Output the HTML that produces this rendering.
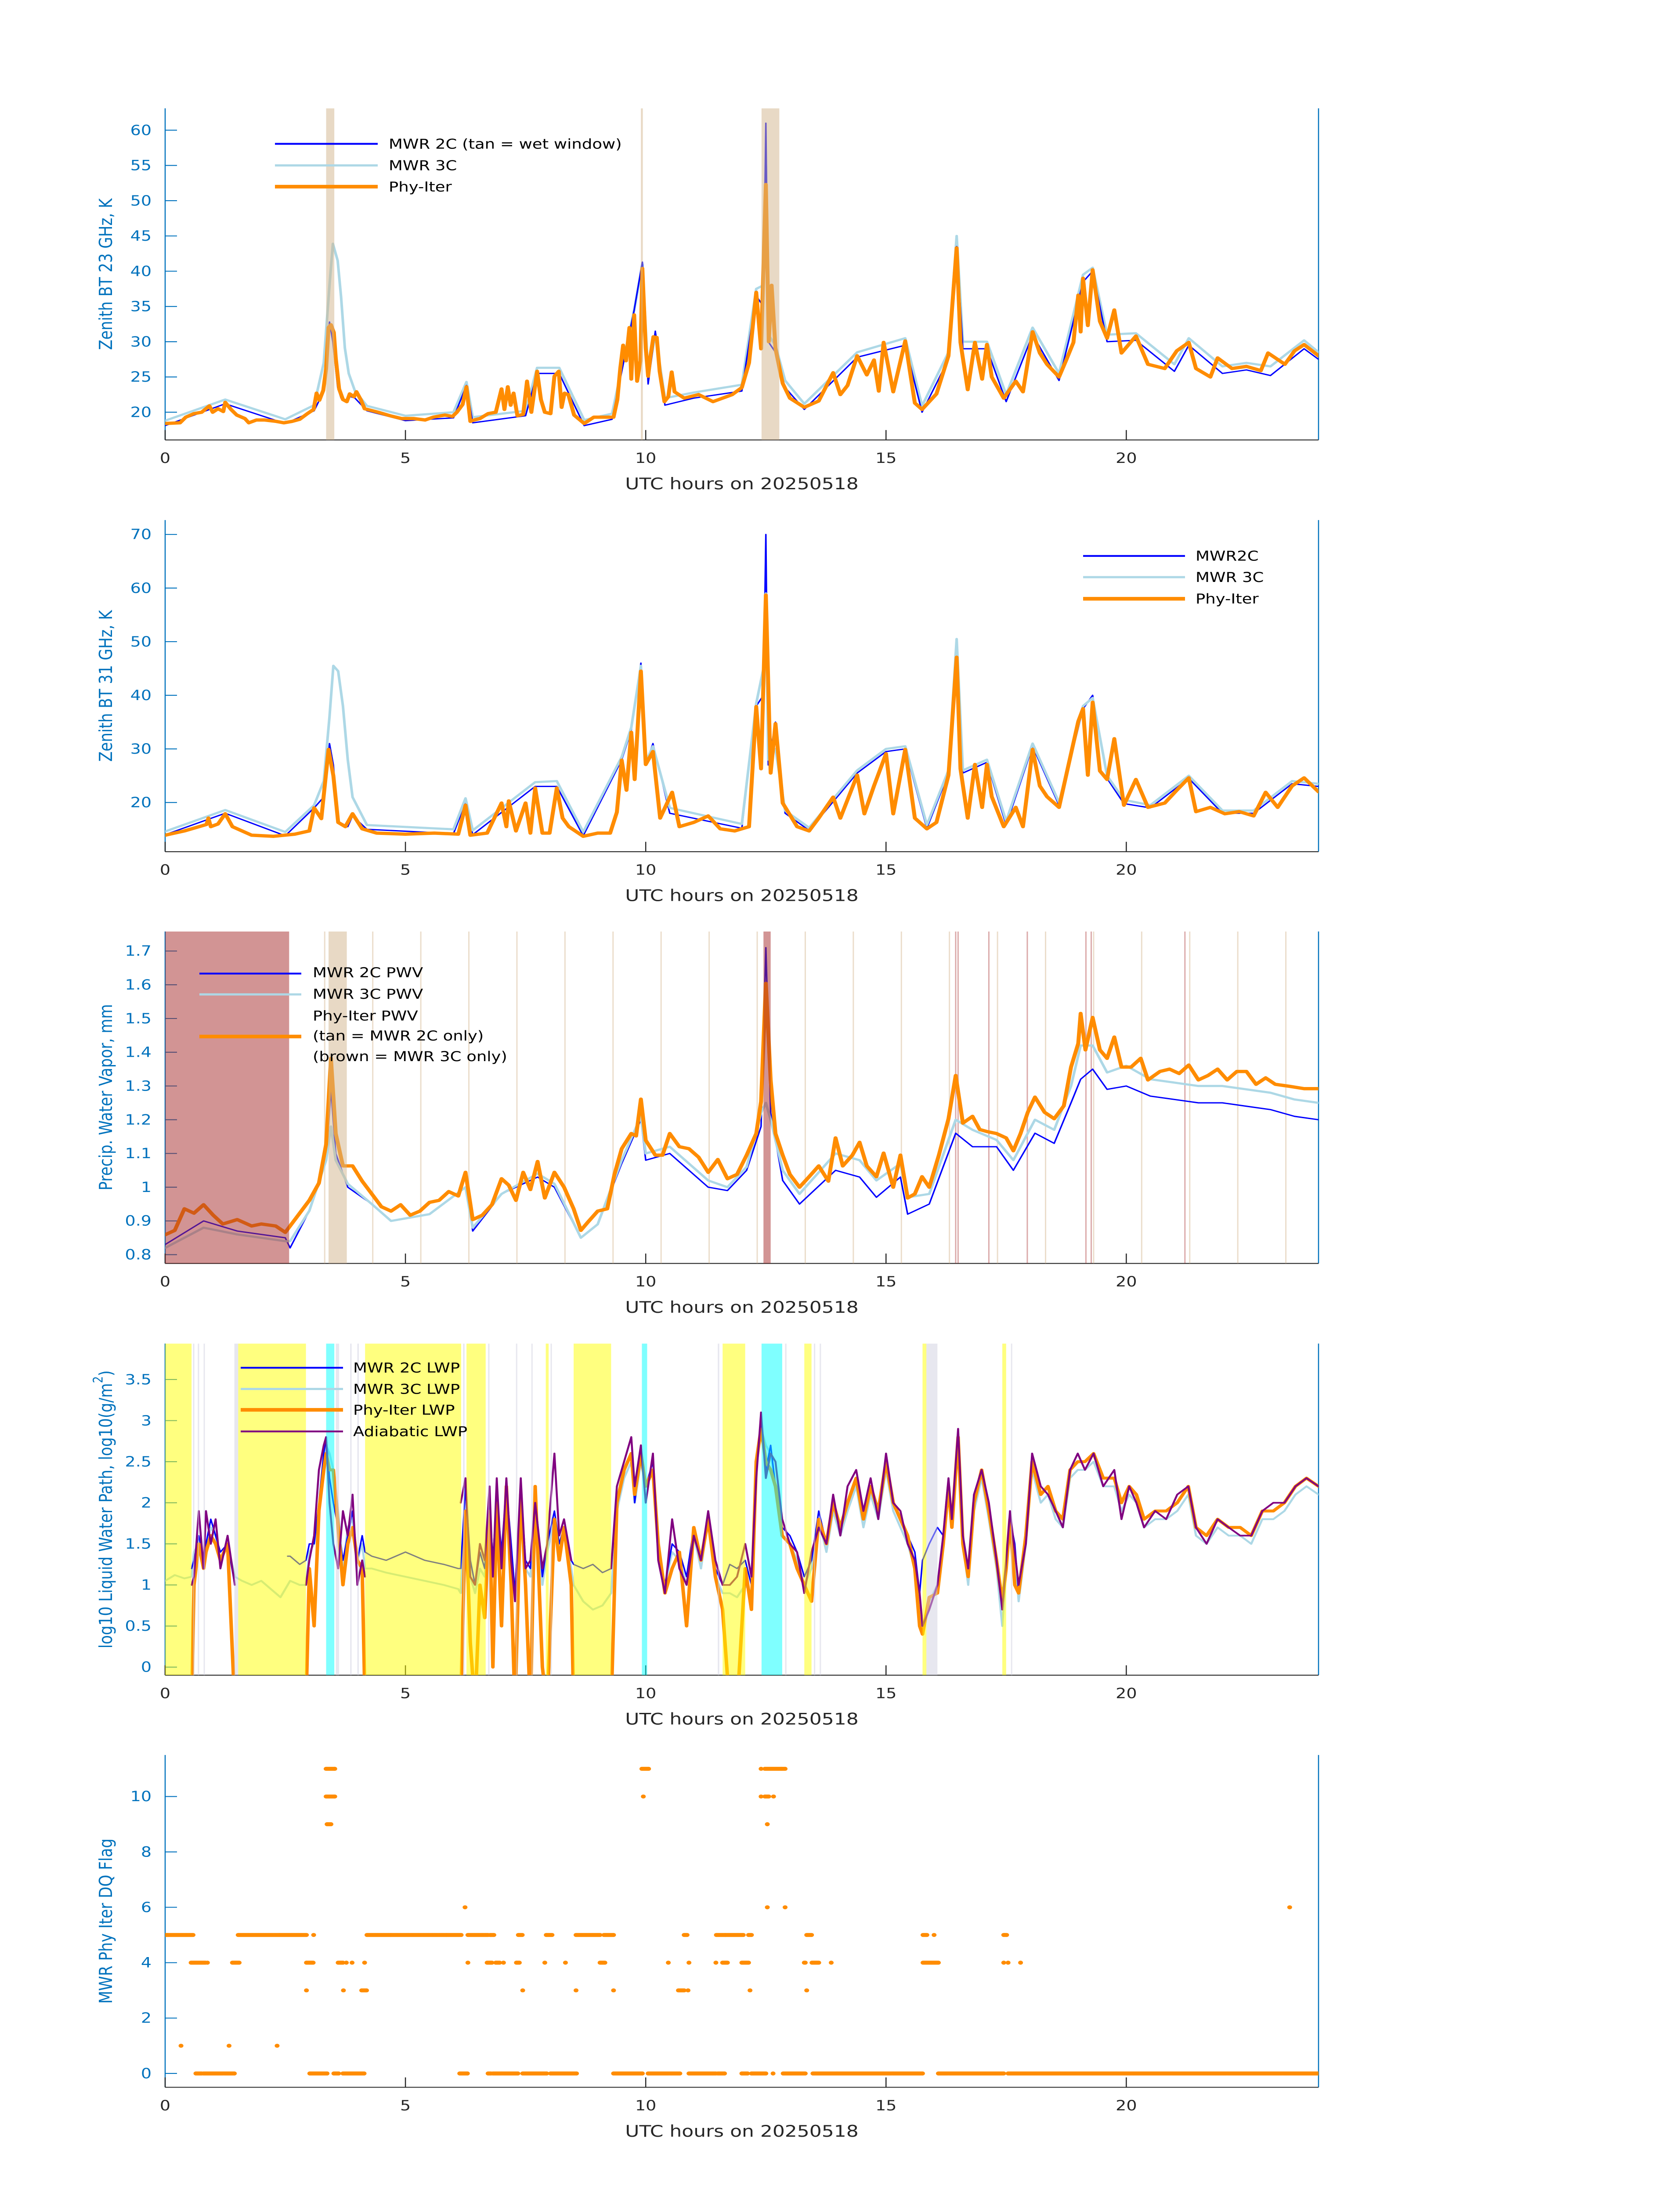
<!DOCTYPE html>
<html><head><meta charset="utf-8">
<style>
html,body{margin:0;padding:0;background:#fff;width:100%;height:100%;overflow:hidden;}
svg{display:block;position:fixed;left:0;top:0;width:100vw;height:100vh;font-family:"DejaVu Sans","Liberation Sans",sans-serif;}
</style></head>
<body>
<svg id="chart" xmlns="http://www.w3.org/2000/svg" viewBox="0 0 3825 6000" preserveAspectRatio="none">
<rect x="0" y="0" width="3825" height="6000" fill="#fff"/>
<g id="layers"></g>
<g id="labels" font-family="DejaVu Sans, Liberation Sans, sans-serif">
  <text x="241" y="749" font-size="41" fill="#0072BD" text-anchor="middle" dominant-baseline="central" transform="rotate(-90 241 749)">Zenith BT 23 GHz, K</text>
  <text x="241" y="1874" font-size="41" fill="#0072BD" text-anchor="middle" dominant-baseline="central" transform="rotate(-90 241 1874)">Zenith BT 31 GHz, K</text>
  <text x="241" y="2998" font-size="41" fill="#0072BD" text-anchor="middle" dominant-baseline="central" transform="rotate(-90 241 2998)">Precip. Water Vapor, mm</text>
  <text x="241" y="4124" font-size="41" fill="#0072BD" text-anchor="middle" dominant-baseline="central" transform="rotate(-90 241 4124)">log10 Liquid Water Path, log10(g/m<tspan baseline-shift="super" font-size="30">2</tspan>)</text>
  <text x="241" y="5249" font-size="41" fill="#0072BD" text-anchor="middle" dominant-baseline="central" transform="rotate(-90 241 5249)">MWR Phy Iter DQ Flag</text>

  <text x="1689" y="1337" font-size="44" fill="#262626" text-anchor="middle">UTC hours on 20250518</text>
  <text x="1689" y="2462" font-size="44" fill="#262626" text-anchor="middle">UTC hours on 20250518</text>
  <text x="1689" y="3587" font-size="44" fill="#262626" text-anchor="middle">UTC hours on 20250518</text>
  <text x="1689" y="4712" font-size="44" fill="#262626" text-anchor="middle">UTC hours on 20250518</text>
  <text x="1689" y="5838" font-size="44" fill="#262626" text-anchor="middle">UTC hours on 20250518</text>
</g>
<g id="legends" font-size="37" fill="#000">
  <g>
    <line x1="626" y1="393" x2="860" y2="393" stroke="#0000ff" stroke-width="5"/>
    <text x="885" y="406">MWR 2C (tan = wet window)</text>
    <line x1="626" y1="452" x2="860" y2="452" stroke="#add8e6" stroke-width="6"/>
    <text x="885" y="465">MWR 3C</text>
    <line x1="626" y1="510" x2="860" y2="510" stroke="#ff8c00" stroke-width="10"/>
    <text x="885" y="523">Phy-Iter</text>
  </g>
  <g>
    <line x1="2466" y1="1519" x2="2698" y2="1519" stroke="#0000ff" stroke-width="5"/>
    <text x="2722" y="1532">MWR2C</text>
    <line x1="2466" y1="1577" x2="2698" y2="1577" stroke="#add8e6" stroke-width="6"/>
    <text x="2722" y="1590">MWR 3C</text>
    <line x1="2466" y1="1636" x2="2698" y2="1636" stroke="#ff8c00" stroke-width="10"/>
    <text x="2722" y="1649">Phy-Iter</text>
  </g>
  <g>
    <line x1="454" y1="2660" x2="686" y2="2660" stroke="#0000ff" stroke-width="5"/>
    <text x="712" y="2670">MWR 2C PWV</text>
    <line x1="454" y1="2717" x2="686" y2="2717" stroke="#add8e6" stroke-width="6"/>
    <text x="712" y="2729">MWR 3C PWV</text>
    <text x="712" y="2788">Phy-Iter PWV</text>
    <line x1="454" y1="2832" x2="686" y2="2832" stroke="#ff8c00" stroke-width="10"/>
    <text x="712" y="2843">(tan = MWR 2C only)</text>
    <text x="712" y="2899">(brown = MWR 3C only)</text>
  </g>
  <g>
    <line x1="548" y1="3737" x2="781" y2="3737" stroke="#0000ff" stroke-width="5"/>
    <text x="804" y="3750">MWR 2C LWP</text>
    <line x1="548" y1="3795" x2="781" y2="3795" stroke="#add8e6" stroke-width="6"/>
    <text x="804" y="3808">MWR 3C LWP</text>
    <line x1="548" y1="3852" x2="781" y2="3852" stroke="#ff8c00" stroke-width="10"/>
    <text x="804" y="3865">Phy-Iter LWP</text>
    <line x1="548" y1="3911" x2="781" y2="3911" stroke="#800080" stroke-width="5"/>
    <text x="804" y="3924">Adiabatic LWP</text>
  </g>
</g>
</svg>
<script>
// ---------- shared ----------
const xTicks = [0, 5, 10, 15, 20];
const xTickLabels = ["0", "5", "10", "15", "20"];

// ---------- panel 1 : 23 GHz ----------
const t1 = [0,0.31,0.43,0.6,0.76,0.92,0.99,1.1,1.21,1.25,1.37,1.49,1.66,1.74,1.9,2.07,2.31,2.47,2.64,2.8,2.96,3.09,3.15,3.21,3.29,3.35,3.4,3.45,3.51,3.55,3.62,3.7,3.78,3.84,3.93,3.98,4.07,4.15,4.43,4.68,4.92,5.17,5.41,5.58,5.82,5.98,6.07,6.19,6.27,6.35,6.43,6.55,6.72,6.88,7.0,7.06,7.13,7.19,7.25,7.33,7.45,7.53,7.62,7.74,7.82,7.9,8.02,8.1,8.19,8.25,8.31,8.39,8.51,8.72,8.92,9.16,9.33,9.41,9.47,9.53,9.59,9.66,9.7,9.76,9.82,9.89,9.93,10.0,10.05,10.1,10.16,10.23,10.29,10.39,10.47,10.54,10.6,10.8,11.1,11.4,11.6,11.8,12.0,12.15,12.3,12.4,12.5,12.56,12.62,12.7,12.85,13.0,13.3,13.6,13.9,14.05,14.2,14.4,14.6,14.75,14.85,14.95,15.15,15.4,15.6,15.75,16.05,16.3,16.47,16.55,16.7,16.85,17.0,17.1,17.2,17.45,17.7,17.85,18.05,18.2,18.35,18.6,18.75,18.9,19.0,19.05,19.1,19.2,19.3,19.45,19.6,19.75,19.9,20.2,20.45,20.8,21.05,21.3,21.45,21.75,21.9,22.2,22.5,22.8,22.95,23.3,23.5,23.7,24];
const phy23 = [18.4,18.5,19.3,19.8,20.0,20.9,20.0,20.5,20.1,21.4,20.4,19.6,19.1,18.5,18.9,18.9,18.7,18.5,18.7,19.0,19.8,20.4,22.7,21.7,23.1,26.2,32.0,32.4,31.3,27.7,23.3,21.8,21.5,22.6,22.2,22.9,21.8,20.5,20.0,19.5,19.1,19.1,18.9,19.3,19.6,19.4,20.0,21.1,23.6,18.7,18.9,19.1,19.8,20.0,23.3,20.4,23.6,21.0,22.7,19.5,19.7,24.4,20.0,25.8,21.8,20.0,19.8,25.1,25.8,20.7,22.7,22.5,19.6,18.4,19.3,19.3,19.3,21.8,26.2,29.5,27.3,32.0,24.7,33.8,24.4,27.3,40.4,29.1,25.1,28.0,30.7,30.6,25.8,21.5,22.2,25.7,22.9,22.0,22.5,21.5,22.0,22.5,23.5,27.0,37.0,29.0,52.3,30.0,38.0,29.0,24.1,22.0,20.7,21.6,25.6,22.5,23.8,28.0,25.3,27.4,23.0,29.9,22.9,30.1,21.3,20.4,22.6,28.0,43.3,29.9,23.2,29.9,24.7,29.6,25.0,22.0,24.4,22.9,31.4,28.4,26.8,25.0,27.4,29.9,36.6,31.4,39.0,32.3,40.2,32.9,30.5,34.5,28.4,30.8,26.8,26.2,28.7,29.9,26.2,25.0,27.7,26.2,26.5,25.9,28.4,26.8,28.7,29.6,28.0];
const t1b = [0,1.25,2.5,3.1,3.3,3.42,3.49,3.59,3.66,3.74,3.82,3.95,4.2,5,6,6.27,6.4,7.5,7.74,8.2,8.72,9.3,9.76,9.93,10.05,10.2,10.4,11,12,12.3,12.45,12.5,12.55,12.7,12.9,13.3,14.4,15.4,15.75,16.3,16.47,16.6,17.1,17.5,18.05,18.6,19.1,19.3,19.6,20.2,21,21.3,22,22.5,23,23.7,24];
const mwr3c23 = [18.8,21.8,19.0,21.0,27.0,38.0,43.9,41.5,36.4,29.1,25.5,23.0,20.9,19.5,20.0,24.3,19.3,20.2,26.3,26.3,18.9,19.8,34.5,41.0,25.5,31.0,22.0,22.8,23.9,37.5,38.0,55.0,31.0,29.5,24.5,21.2,28.5,30.5,20.9,28.5,45.0,30.0,30.0,22.5,32.0,25.5,39.5,40.5,31.0,31.2,26.8,30.5,26.5,27.0,26.5,30.2,28.5];
const mwr2c23 = [18.1,21.2,18.4,20.2,23.0,32.8,30.0,23.5,22.0,21.5,22.3,22.0,20.2,18.8,19.2,23.8,18.5,19.5,25.5,25.5,18.1,19.0,34.5,41.3,24.0,31.5,21.0,22.0,23.0,36.5,35.0,61.0,30.0,28.5,23.5,20.4,27.8,29.5,20.0,27.5,43.5,29.0,29.0,21.5,31.0,24.5,38.5,40.0,30.0,30.2,25.8,29.5,25.5,26.0,25.2,29.0,27.5];
const yTicks1 = [20,25,30,35,40,45,50,55,60];
const tanBands1 = [[3.35,3.52],[9.9,9.94],[12.41,12.78]];

// ---------- panel 2 : 31 GHz ----------
const t2 = [0,0.4,0.86,0.9,0.95,1.1,1.25,1.4,1.8,2.25,2.7,3.0,3.1,3.25,3.4,3.5,3.6,3.75,3.9,4.1,4.4,5.0,5.6,6.1,6.25,6.35,6.7,7.0,7.1,7.15,7.3,7.5,7.6,7.7,7.85,8.0,8.15,8.27,8.4,8.7,9.0,9.26,9.4,9.5,9.6,9.7,9.77,9.9,10.0,10.15,10.3,10.55,10.7,11.0,11.3,11.55,11.85,12.15,12.3,12.4,12.5,12.6,12.7,12.85,13.15,13.4,13.6,13.9,14.05,14.4,14.55,14.75,15.0,15.15,15.4,15.6,15.85,16.05,16.3,16.47,16.55,16.7,16.85,17.0,17.1,17.2,17.45,17.7,17.85,18.05,18.2,18.35,18.6,18.8,19.0,19.1,19.2,19.3,19.45,19.6,19.75,19.95,20.2,20.45,20.8,21.05,21.3,21.45,21.75,22.05,22.35,22.65,22.9,23.15,23.45,23.7,24];
const phy31 = [13.9,14.7,15.9,17.1,15.5,16.0,17.9,15.5,13.9,13.7,14.1,14.7,19.0,17.0,29.9,25.0,16.3,15.5,17.9,15.1,14.3,14.1,14.3,14.1,19.5,13.9,14.3,19.9,15.5,20.3,14.7,19.9,14.3,22.7,14.3,14.3,22.7,17.1,15.5,13.7,14.3,14.3,18.2,27.9,22.3,33.1,24.3,44.5,27.1,29.5,17.1,21.9,15.5,16.3,17.5,15.1,14.7,15.5,37.9,26.3,58.7,25.5,34.7,19.9,15.5,14.7,17.1,21.0,17.1,25.1,17.9,23.1,29.1,17.9,29.9,17.1,15.1,16.3,25.1,47.1,26.3,17.1,27.1,19.1,27.1,21.1,15.5,19.1,15.5,29.9,23.1,21.1,19.1,27.1,35.1,37.5,25.1,38.7,25.9,24.3,31.9,19.5,24.3,19.1,19.9,22.3,24.6,18.3,19.1,17.9,18.3,17.5,21.9,19.1,23.1,24.6,22.0];
const t2b = [0,1.25,2.5,3.1,3.3,3.42,3.5,3.6,3.7,3.8,3.9,4.2,6,6.25,6.4,7.7,8.15,8.7,9.5,9.7,9.9,10.0,10.15,10.5,12.0,12.3,12.45,12.5,12.55,12.7,12.9,13.4,14.4,15.0,15.4,15.85,16.3,16.47,16.6,17.1,17.5,18.05,18.6,19.1,19.3,19.6,19.95,20.5,21.3,22.0,22.65,23.45,24];
const mwr3c31 = [14.6,18.6,14.5,19.5,24.0,36.0,45.5,44.5,38.0,28.0,21.0,15.8,15.0,20.8,14.8,23.8,24.0,14.5,28.5,34.0,45.5,27.5,30.5,19.0,16.0,38.5,45.0,59.0,28.0,30.0,18.5,15.3,26.0,30.0,30.5,15.8,26.0,50.5,26.0,28.0,16.5,31.0,20.0,38.0,39.5,25.0,20.5,19.5,25.0,18.5,18.5,24.0,23.5];
const mwr2c31 = [14.0,18.0,13.8,19.0,21.0,31.0,27.0,16.5,16.0,15.5,17.5,15.0,14.2,20.0,14.0,23.0,23.0,13.8,28.0,33.5,46.0,27.0,31.0,18.0,15.2,38.0,40.0,70.0,27.0,35.0,18.0,14.8,25.5,29.5,30.0,15.2,25.5,47.5,25.5,27.5,15.8,30.5,19.5,37.5,40.0,24.5,19.8,19.0,24.5,18.0,18.0,23.5,23.0];
const yTicks2 = [20,30,40,50,60,70];

// ---------- panel 3 : PWV ----------
const t3 = [0,0.2,0.4,0.6,0.8,1.0,1.2,1.5,1.8,2.0,2.3,2.5,2.6,3.0,3.2,3.35,3.45,3.55,3.7,3.9,4.1,4.3,4.5,4.7,4.9,5.1,5.3,5.5,5.7,5.9,6.1,6.25,6.4,6.6,6.8,7.0,7.15,7.3,7.45,7.6,7.75,7.9,8.1,8.3,8.5,8.65,8.8,9.0,9.2,9.35,9.5,9.7,9.8,9.9,10.0,10.2,10.35,10.5,10.7,10.9,11.1,11.3,11.5,11.7,11.9,12.1,12.3,12.4,12.5,12.6,12.7,12.85,13.0,13.2,13.4,13.6,13.8,13.95,14.1,14.3,14.45,14.6,14.8,14.95,15.15,15.3,15.45,15.6,15.75,15.9,16.1,16.3,16.45,16.6,16.8,16.95,17.1,17.3,17.5,17.65,17.8,17.95,18.1,18.3,18.5,18.7,18.85,19.0,19.05,19.15,19.3,19.45,19.6,19.75,19.9,20.1,20.3,20.45,20.7,20.9,21.1,21.3,21.5,21.7,21.9,22.1,22.3,22.5,22.7,22.9,23.1,23.4,23.7,24];
const phyPwv = [0.859,0.872,0.936,0.923,0.948,0.917,0.891,0.904,0.885,0.891,0.885,0.866,0.885,0.961,1.012,1.127,1.382,1.159,1.063,1.063,1.018,0.980,0.942,0.929,0.948,0.917,0.929,0.955,0.961,0.987,0.974,1.044,0.904,0.917,0.948,1.025,1.006,0.961,1.044,0.993,1.076,0.968,1.044,1.0,0.936,0.872,0.897,0.929,0.936,1.038,1.114,1.159,1.152,1.261,1.139,1.095,1.095,1.159,1.120,1.114,1.089,1.044,1.082,1.025,1.038,1.095,1.159,1.254,1.604,1.318,1.159,1.095,1.038,1.0,1.031,1.063,1.018,1.146,1.063,1.095,1.133,1.063,1.031,1.101,1.0,1.095,0.968,0.980,1.031,1.0,1.095,1.203,1.331,1.190,1.210,1.171,1.165,1.159,1.146,1.108,1.159,1.222,1.267,1.222,1.203,1.241,1.356,1.426,1.515,1.407,1.503,1.407,1.382,1.445,1.356,1.356,1.382,1.318,1.343,1.350,1.337,1.362,1.318,1.331,1.350,1.318,1.343,1.343,1.305,1.324,1.305,1.299,1.292,1.292];
const t3b = [0,0.8,1.5,2.5,2.6,3.0,3.35,3.45,3.55,3.8,4.3,4.7,5.5,6.25,6.4,7.0,7.75,8.1,8.65,9.0,9.5,9.9,10.0,10.5,11.3,11.7,12.1,12.4,12.5,12.6,12.85,13.2,13.95,14.45,14.8,15.3,15.45,15.9,16.45,16.8,17.3,17.65,18.1,18.5,18.85,19.05,19.3,19.6,20.0,20.5,21.0,21.5,22.0,22.5,23.0,23.5,24];
const mwr2cPwv = [0.83,0.90,0.87,0.85,0.82,0.93,1.08,1.29,1.10,1.00,0.95,0.90,0.92,1.00,0.87,0.98,1.03,1.00,0.85,0.89,1.07,1.20,1.08,1.10,1.00,0.99,1.05,1.18,1.71,1.22,1.02,0.95,1.05,1.03,0.97,1.03,0.92,0.95,1.16,1.12,1.12,1.05,1.16,1.13,1.25,1.32,1.35,1.29,1.30,1.27,1.26,1.25,1.25,1.24,1.23,1.21,1.20];
const mwr3cPwv = [0.82,0.88,0.86,0.84,0.84,0.93,1.08,1.18,1.08,1.01,0.95,0.90,0.92,1.00,0.88,0.98,1.04,1.01,0.85,0.89,1.08,1.21,1.10,1.12,1.02,1.00,1.06,1.22,1.25,1.20,1.05,0.98,1.10,1.08,1.02,1.07,0.97,0.98,1.20,1.17,1.14,1.08,1.20,1.17,1.30,1.42,1.42,1.34,1.36,1.32,1.31,1.30,1.30,1.29,1.28,1.26,1.25];
const yTicks3 = [0.8,0.9,1.0,1.1,1.2,1.3,1.4,1.5,1.6,1.7];
const brownBands3 = [[0,2.58],[12.45,12.6]];
const tanBands3 = [[3.4,3.78]];
const tanLines3 = [3.32,4.32,5.32,6.32,7.32,8.32,9.32,10.32,11.32,12.32,13.32,14.32,15.32,16.32,17.32,18.32,19.32,20.32,21.32,22.32,23.32];
const redLines3 = [16.45,16.5,17.14,17.94,19.16,19.27,21.22];

// ---------- panel 4 : LWP ----------
const t4 = [0,0.2,0.4,0.55,0.6,0.7,0.8,0.85,0.95,1.05,1.15,1.3,1.45,1.6,1.8,2.0,2.2,2.4,2.55,2.6,2.8,2.93,3.0,3.1,3.2,3.3,3.35,3.42,3.5,3.6,3.7,3.8,3.9,4.0,4.1,4.16,4.3,4.6,5.0,5.4,5.8,6.1,6.15,6.25,6.35,6.45,6.55,6.65,6.75,6.82,6.9,7.0,7.1,7.2,7.28,7.4,7.5,7.6,7.7,7.85,7.95,8.1,8.2,8.3,8.45,8.5,8.7,8.9,9.1,9.28,9.4,9.55,9.7,9.77,9.9,10.0,10.15,10.26,10.4,10.55,10.7,10.85,11.0,11.15,11.3,11.45,11.6,11.75,11.9,12.07,12.2,12.3,12.4,12.5,12.6,12.7,12.84,13.0,13.15,13.3,13.45,13.6,13.76,13.9,14.05,14.2,14.38,14.53,14.68,14.84,15.0,15.15,15.3,15.45,15.6,15.7,15.76,15.9,16.07,16.19,16.3,16.37,16.5,16.6,16.71,16.83,16.99,17.14,17.3,17.42,17.5,17.58,17.68,17.76,17.91,18.04,18.22,18.37,18.53,18.68,18.83,18.99,19.14,19.32,19.52,19.75,19.9,20.06,20.21,20.37,20.6,20.83,21.06,21.29,21.45,21.67,21.9,22.13,22.37,22.6,22.83,23.06,23.29,23.52,23.75,24];
const lwp2c = [null,null,null,1.2,1.3,1.6,1.3,1.5,1.8,1.6, 1.4,1.5,1.0,null,null,null,null,null,1.35,1.35, 1.25,1.3,1.5,1.5,2.0,2.6,2.8,2.3,2.0,1.7, 1.3,1.6,1.9,1.3,1.6,1.4,1.35,1.3,1.4,1.3, 1.25,1.2,1.2,2.2,1.3,1.0,1.4,1.2,2.0,1.3, 2.1,1.4,2.2,1.5,0.9,2.2,1.3,1.2,2.1,1.1, 1.5,1.9,1.5,1.7,1.3,1.25,1.2,1.25,1.15,1.2, 2.0,2.4,2.6,2.0,2.6,2.2,2.5,1.5,1.0,1.5, 1.4,1.1,1.7,1.3,1.9,1.2,1.0,1.25,1.2,1.3, 1.0,2.5,3.0,2.4,2.7,2.2,1.7,1.6,1.4,1.1, 1.3,1.9,1.5,2.0,1.7,2.0,2.3,1.8,2.2,1.9, 2.5,2.0,1.8,1.6,1.4,0.9,1.3,1.5,1.7,1.6, 2.2,1.7,2.8,1.6,1.1,2.0,2.4,1.9,1.3,0.8, 1.3,1.8,1.5,0.9,1.6,2.5,2.1,2.2,1.9,1.8, 2.4,2.5,2.5,2.6,2.3,2.3,2.0,2.2,2.1,1.8, 1.9,1.9,2.0,2.2,1.7,1.6,1.8,1.7,1.7,1.6, 1.9,1.9,2.0,2.2,2.3,2.2];
const lwp3c = [1.05,1.12,1.08,1.1,1.4,1.5,1.3,1.5,1.7,1.6, 1.3,1.5,1.1,1.05,1.0,1.05,0.95,0.85,1.0,1.05, 1.0,1.0,1.4,1.5,1.9,2.5,2.7,2.6,2.4,1.9, 1.2,1.7,1.8,1.3,1.5,1.2,1.2,1.15,1.1,1.05, 1.0,0.95,0.9,2.0,1.1,0.9,1.2,1.1,1.9,1.2, 2.0,1.3,2.1,1.4,0.9,2.1,1.2,1.1,2.0,1.0, 1.4,1.8,1.4,1.7,1.2,1.0,0.8,0.7,0.75,0.9, 1.9,2.3,2.5,2.0,2.5,2.2,2.4,1.4,1.0,1.4, 1.3,1.0,1.6,1.2,1.8,1.1,0.9,0.9,0.85,1.0, 0.9,2.4,2.9,2.7,2.6,2.2,1.6,1.5,1.3,1.0, 1.2,1.8,1.4,1.9,1.6,1.9,2.2,1.7,2.1,1.8, 2.4,1.9,1.7,1.5,1.2,0.6,0.5,0.8,1.0,1.5, 2.1,1.7,2.7,1.5,1.0,1.9,2.3,1.8,1.2,0.5, 1.2,1.7,1.4,0.8,1.5,2.4,2.0,2.1,1.8,1.7, 2.3,2.4,2.4,2.5,2.2,2.2,1.9,2.1,2.0,1.7, 1.8,1.8,1.9,2.1,1.6,1.5,1.7,1.6,1.6,1.5, 1.8,1.8,1.9,2.1,2.2,2.1];
const lwpPhy = [null,null,null,-0.5,1.0,1.5,1.2,1.4,1.6,1.5, 1.3,1.5,-0.5,null,null,null,null,null,null,null, null,-0.5,1.2,0.5,1.9,2.4,2.6,2.4,2.4,1.7, 1.0,1.5,1.7,1.3,1.2,-0.5,null,null,null,null, null,null,-0.5,1.9,0.3,-0.5,1.0,0.6,1.9,0.0, 2.0,0.5,2.2,1.0,-0.5,2.1,1.0,-0.5,2.2,0.0, -0.5,1.8,1.3,1.7,1.0,-0.5,null,null,null,-0.5, 2.0,2.4,2.6,2.1,2.6,2.2,2.4,1.5,0.9,1.2, 1.4,0.5,1.7,1.3,1.8,1.1,0.7,-0.5,-0.5,1.2, 0.7,2.5,2.9,2.5,2.4,2.2,1.6,1.5,1.2,1.0, 0.8,1.8,1.5,2.0,1.7,2.0,2.3,1.8,2.2,1.9, 2.5,2.0,1.8,1.6,1.2,0.5,0.4,0.85,0.9,1.5, 2.2,1.7,2.8,1.5,1.1,2.0,2.4,1.9,1.3,0.8, 1.2,1.8,1.0,0.9,1.6,2.5,2.1,2.2,1.9,1.8, 2.4,2.5,2.5,2.6,2.3,2.3,2.0,2.2,2.1,1.8, 1.9,1.9,2.0,2.2,1.7,1.6,1.8,1.7,1.7,1.6, 1.9,1.9,2.0,2.2,2.3,2.2];
const lwpAdiab = [null,null,null,1.0,1.1,1.9,1.2,1.9,1.5,1.8, 1.2,1.6,1.0,null,null,null,null,null,null,null, null,1.0,1.3,1.6,2.4,2.7,2.8,2.0,1.5,1.2, 1.9,1.6,2.1,1.0,1.3,1.1,null,null,null,null, null,null,2.0,2.3,1.1,1.0,1.5,1.3,2.2,1.1, 2.3,1.2,2.3,1.3,0.8,2.3,1.2,1.3,2.0,1.2, 1.5,2.6,1.6,1.8,1.3,null,null,null,null,1.2, 2.2,2.5,2.8,2.2,2.7,2.0,2.6,1.3,0.9,1.8, 1.2,1.0,1.6,1.3,1.9,1.3,1.0,1.0,1.1,1.5, 1.1,2.3,3.1,2.3,2.6,2.5,1.8,1.5,1.4,0.9, 1.4,1.7,1.5,2.1,1.6,2.2,2.4,1.9,2.3,1.8, 2.6,2.0,1.9,1.5,1.3,0.9,0.5,0.7,1.0,1.6, 2.3,1.8,2.9,1.6,1.2,2.1,2.4,2.0,1.3,0.7, 1.3,1.9,1.4,1.0,1.5,2.6,2.2,2.1,1.9,1.7, 2.4,2.6,2.4,2.6,2.2,2.4,1.8,2.2,2.0,1.7, 1.9,1.8,2.1,2.2,1.7,1.5,1.8,1.7,1.6,1.6, 1.9,2.0,2.0,2.2,2.3,2.2];
const yTicks4 = [0,0.5,1,1.5,2,2.5,3,3.5];
const yellowBands4 = [[0,0.55],[1.52,2.93],[4.16,6.16],[6.27,6.67],[7.92,7.98],[8.5,9.28],[11.6,12.07],[13.3,13.45],[15.76,15.84],[17.42,17.5]];
const cyanBands4 = [[3.35,3.52],[9.92,10.03],[12.41,12.84]];
const greyBands4 = [[0.58,0.6],[0.68,0.7],[0.8,0.82],[1.44,1.52],[3.55,3.62],[3.85,3.88],[4.0,4.03],[6.2,6.23],[6.72,6.75],[7.3,7.32],[7.62,7.64],[8.02,8.04],[11.5,11.53],[12.9,12.93],[13.5,13.52],[13.62,13.64],[15.84,16.07],[17.6,17.62]];

// ---------- panel 5 : DQ flag (runs: start h, end h, flag) ----------
const flagRuns = [
 [0,0.58,5],[1.52,2.95,5],[3.09,3.09,5],[4.2,6.16,5],[6.3,6.72,5],[6.76,6.84,5],[7.35,7.44,5],[7.93,8.05,5],[8.55,9.05,5],[9.13,9.34,5],[10.8,10.87,5],[11.47,12.03,5],[12.14,12.2,5],[13.35,13.46,5],[15.77,15.85,5],[16.0,16.0,5],[17.45,17.52,5],
 [0.54,0.84,4],[0.88,0.88,4],[1.4,1.54,4],[2.94,3.09,4],[3.6,3.71,4],[3.77,3.77,4],[3.89,3.89,4],[4.15,4.15,4],[6.3,6.3,4],[6.7,6.8,4],[6.88,6.96,4],[7.04,7.04,4],[7.31,7.37,4],[7.9,7.9,4],[8.33,8.33,4],[9.05,9.15,4],[10.47,10.47,4],[10.9,10.9,4],[11.46,11.46,4],[11.6,11.7,4],[12.0,12.14,4],[13.3,13.33,4],[13.46,13.6,4],[13.86,13.86,4],[15.77,16.1,4],[17.45,17.45,4],[17.54,17.54,4],[17.8,17.8,4],
 [2.94,2.94,3],[3.71,3.71,3],[4.09,4.2,3],[7.44,7.44,3],[8.55,8.55,3],[9.33,9.33,3],[10.68,10.8,3],[10.88,10.88,3],[12.17,12.17,3],[13.35,13.35,3],
 [0.33,0.33,1],[1.33,1.33,1],[2.33,2.33,1],
 [6.24,6.24,6],[12.53,12.53,6],[12.9,12.9,6],[23.4,23.4,6],
 [3.37,3.45,9],[12.53,12.53,9],
 [3.35,3.53,10],[9.95,9.95,10],[12.4,12.4,10],[12.48,12.56,10],[12.66,12.66,10],
 [3.35,3.53,11],[9.92,10.07,11],[12.4,12.4,11],[12.48,12.9,11],
 [0.64,0.76,0],[0.8,1.45,0],[3.01,3.37,0],[3.51,3.62,0],[3.7,4.15,0],[6.13,6.3,0],[6.72,6.78,0],[6.82,7.35,0],[7.44,7.95,0],[8.02,8.56,0],[9.33,9.94,0],[10.05,10.72,0],[10.9,11.47,0],[11.5,11.65,0],[12.0,12.12,0],[12.2,12.5,0],[12.65,12.65,0],[12.86,13.33,0],[13.48,15.77,0],[16.09,17.45,0],[17.54,24,0]
];
const yTicks5 = [0,2,4,6,8,10];

// ---------- drawing ----------
const NS = 'http://www.w3.org/2000/svg';
const root = document.getElementById('layers');
const XL = 376, XR = 3002;
const panels = [
 {top:296, bot:1202, min:16.07, max:63.1},
 {top:1421, bot:2327, min:10.83, max:72.68},
 {top:2545, bot:3452, min:0.774, max:1.758},
 {top:3671, bot:4577, min:-0.098, max:3.937},
 {top:4795, bot:5703, min:-0.5, max:11.5}
];
function X(h){ return XL + h * (XR - XL) / 24; }
function Y(p, v){ return p.bot - (v - p.min) / (p.max - p.min) * (p.bot - p.top); }
function mk(tag, attrs, name, parent){
  const e = document.createElementNS(NS, tag);
  for (const k in attrs) e.setAttribute(k, attrs[k]);
  
  
  (parent || root).appendChild(e);
  return e;
}
function clipFor(i){
  const p = panels[i];
  const defs = mk('defs', {}, 'clip-defs-' + (i+1));
  const cp = mk('clipPath', {id:'clip' + i}, 'plot-clip-' + (i+1), defs);
  mk('rect', {x:XL, y:p.top, width:XR-XL, height:p.bot-p.top}, 'plot-clip-rect', cp);
  return mk('g', {'clip-path':'url(#clip' + i + ')'}, 'plot-area-' + (i+1));
}
function series(g, i, ts, vs, color, w, name){
  const p = panels[i];
  let d = '', pen = false;
  const n = Math.min(ts.length, vs.length);
  for (let k = 0; k < n; k++){
    const v = vs[k];
    if (v === null || v === undefined){ pen = false; continue; }
    d += (pen ? 'L' : 'M') + X(ts[k]).toFixed(1) + ' ' + Y(p, v).toFixed(1) + ' ';
    pen = true;
  }
  return mk('path', {d:d, fill:'none', stroke:color, 'stroke-width':w, 'stroke-linejoin':'round', 'stroke-linecap':'round'}, name, g);
}
function bands(g, i, list, color, op, name){
  const p = panels[i];
  list.forEach(b => {
    const x0 = X(b[0]), x1 = X(b[1]);
    mk('rect', {x:x0, y:p.top, width:Math.max(x1-x0, 3), height:p.bot-p.top, fill:color, 'fill-opacity':op}, name, g);
  });
}
function vlines(g, i, list, color, op, w, name){
  const p = panels[i];
  list.forEach(h => {
    mk('line', {x1:X(h), x2:X(h), y1:p.top, y2:p.bot, stroke:color, 'stroke-opacity':op, 'stroke-width':w}, name, g);
  });
}
function axes(i, yt, fmt){
  const p = panels[i];
  const g = mk('g', {}, 'axes-' + (i+1));
  mk('line', {x1:XL, x2:XL, y1:p.top, y2:p.bot, stroke:'#0072BD', 'stroke-width':2.5}, 'y-axis-line', g);
  mk('line', {x1:XR, x2:XR, y1:p.top, y2:p.bot, stroke:'#0072BD', 'stroke-width':2.5}, 'right-axis-line', g);
  mk('line', {x1:XL, x2:XR, y1:p.bot, y2:p.bot, stroke:'#262626', 'stroke-width':2.5}, 'x-axis-line', g);
  yt.forEach(v => {
    const y = Y(p, v);
    mk('line', {x1:XL, x2:XL+27, y1:y, y2:y, stroke:'#0072BD', 'stroke-width':2.5}, 'y-tick', g);
    const t = mk('text', {x:345, y:y+13, 'font-size':38, fill:'#0072BD', 'text-anchor':'end'}, 'y-tick-label', g);
    t.textContent = fmt(v);
  });
  xTicks.forEach((h, k) => {
    const x = X(h);
    mk('line', {x1:x, x2:x, y1:p.bot, y2:p.bot-27, stroke:'#262626', 'stroke-width':2.5}, 'x-tick', g);
    const t = mk('text', {x:x, y:p.bot+63, 'font-size':38, fill:'#262626', 'text-anchor':'middle'}, 'x-tick-label', g);
    t.textContent = xTickLabels[k];
  });
}
const fmtNum = v => String(Math.round(v * 10) / 10);

// panel 1
axes(0, yTicks1, fmtNum);
let g = clipFor(0);
series(g, 0, t1b, mwr3c23, '#add8e6', 6, 'series-mwr3c-23ghz');
series(g, 0, t1b, mwr2c23, '#0000ff', 3.5, 'series-mwr2c-23ghz');
series(g, 0, t1, phy23, '#ff8c00', 9, 'series-phy-iter-23ghz');
bands(g, 0, tanBands1, '#d2b48c', 0.5, 'wet-window-band');

// panel 2
axes(1, yTicks2, fmtNum);
g = clipFor(1);
series(g, 1, t2b, mwr2c31, '#0000ff', 3.5, 'series-mwr2c-31ghz');
series(g, 1, t2b, mwr3c31, '#add8e6', 6, 'series-mwr3c-31ghz');
series(g, 1, t2, phy31, '#ff8c00', 9, 'series-phy-iter-31ghz');

// panel 3
axes(2, yTicks3, fmtNum);
g = clipFor(2);
vlines(g, 2, tanLines3, '#d2b48c', 0.45, 3, 'tan-marker-line');
vlines(g, 2, redLines3, '#a52a2a', 0.4, 3, 'brown-marker-line');
series(g, 2, t3b, mwr2cPwv, '#0000ff', 3.5, 'series-mwr2c-pwv');
series(g, 2, t3b, mwr3cPwv, '#add8e6', 6, 'series-mwr3c-pwv');
series(g, 2, t3, phyPwv, '#ff8c00', 9, 'series-phy-iter-pwv');
bands(g, 2, brownBands3, '#a52a2a', 0.5, 'mwr3c-only-band');
bands(g, 2, tanBands3, '#d2b48c', 0.5, 'mwr2c-only-band');

// panel 4
axes(3, yTicks4, fmtNum);
g = clipFor(3);
series(g, 3, t4, lwp3c, '#add8e6', 5, 'series-mwr3c-lwp');
series(g, 3, t4, lwp2c, '#0000ff', 3.5, 'series-mwr2c-lwp');
series(g, 3, t4, lwpPhy, '#ff8c00', 8, 'series-phy-iter-lwp');
series(g, 3, t4, lwpAdiab, '#800080', 4.5, 'series-adiabatic-lwp');
bands(g, 3, greyBands4, '#cfcfe0', 0.5, 'grey-flag-band');
bands(g, 3, yellowBands4, '#ffff00', 0.5, 'clear-sky-band');
bands(g, 3, cyanBands4, '#00ffff', 0.5, 'rain-band');

// panel 5
axes(4, yTicks5, fmtNum);
g = clipFor(4);
const p5 = panels[4];
flagRuns.forEach(r => {
  for (let h = r[0]; h <= r[1] + 1e-9; h += 0.02){
    mk('circle', {cx:X(h).toFixed(1), cy:Y(p5, r[2]).toFixed(1), r:5.5, fill:'#ff8c00'}, 'dq-flag-point', g);
  }
});
</script>
</body></html>
